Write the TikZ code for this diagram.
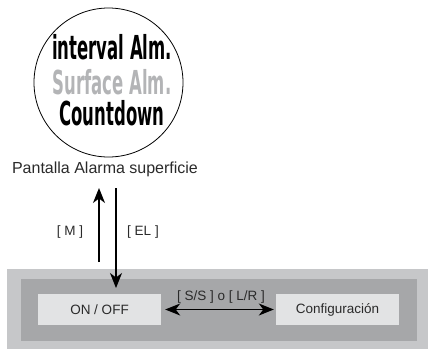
\documentclass[tikz,border=0pt]{standalone}
\usepackage{fontspec}
\usepackage{tikz}
\usetikzlibrary{arrows.meta, positioning, calc}
\setmainfont{Liberation Sans}
\newfontfamily\lcdfont{DejaVu Sans}[FakeStretch=0.5]
\definecolor{panelout}{HTML}{C6C7C9}
\definecolor{panelin}{HTML}{A6A7A9}
\definecolor{keybox}{HTML}{E2E3E4}
\definecolor{lcdgray}{HTML}{B3B4B6}
\definecolor{labelgray}{HTML}{2A2A2A}

\begin{document}
\begin{tikzpicture}[x=1pt, y=-1pt,
    lcd/.style={font=\lcdfont\bfseries\fontsize{33}{33}\selectfont, inner sep=0pt},
    keynode/.style={fill=keybox, minimum width=123pt, minimum height=31pt,
          font=\fontsize{13.5}{15}\selectfont, text=labelgray},
    keylabel/.style={font=\fontsize{13.5}{15}\selectfont, text=labelgray},
    flow/.style={line width=1.3pt, -{Stealth[length=15pt, width=12pt, inset=4.5pt]}},
    swap/.style={line width=1.3pt, {Stealth[length=15pt, width=12pt, inset=4.5pt]}-{Stealth[length=15pt, width=12pt, inset=4.5pt]}}]
    \useasboundingbox (0,0) rectangle (428,349);

    % display circle with its three lines
    \node[draw, circle, line width=0.8pt, minimum size=149pt] (display) at (108.5, 82.5) {};
    \node[lcd] (interval) at (112, 47) {interval Alm.};
    \node[lcd, text=lcdgray] (surface) at (112, 82) {Surface Alm.};
    \node[lcd] (countdown) at (112, 113) {Countdown};
    \node[font=\fontsize{16}{18}\selectfont, text=labelgray] (caption) at (105, 169) {Pantalla Alarma superficie};

    % panel of the mode
    \fill[panelout] (7, 269) rectangle (428, 349);
    \fill[panelin] (21, 279) rectangle (417, 341);
    \node[keynode] (onoff) at (99.5, 309.5) {ON / OFF};
    \node[keynode] (config) at (337.5, 309.5) {Configuración};

    % transitions
    \coordinate (upfoot) at (99, 262);
    \coordinate (uphead) at (99, 188);
    \coordinate (downtop) at (116, 188);
    \coordinate (downhead) at (116, 288);
    \draw[flow] (upfoot) -- (uphead);
    \draw[flow] (downtop) -- (downhead);
    \node[keylabel] (mkey) at (70, 232) {[ M ]};
    \node[keylabel] (elkey) at (143, 232) {[ EL ]};

    \draw[swap] ([xshift=4pt]onoff.east) -- ([xshift=-2pt]config.west);
    \node[keylabel] (sskey) at (221, 297) {[ S/S ] o [ L/R ]};
\end{tikzpicture}
\end{document}
